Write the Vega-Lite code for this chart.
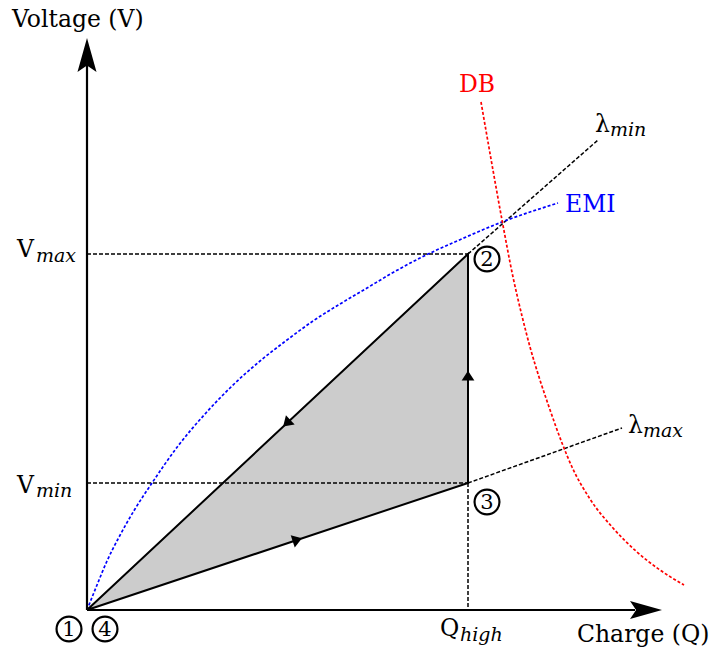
{
  "$schema": "https://vega.github.io/schema/vega-lite/v6.json",
  "width": 713,
  "height": 655,
  "autosize": {"type": "none"},
  "padding": 0,
  "background": "white",
  "config": {"view": {"stroke": null}, "font": "DejaVu Serif", "text": {"font": "DejaVu Serif"}},
  "datasets": {
    "region": [
      {"q": 0, "v": 0, "v2": 0},
      {"q": 381, "v": 356, "v2": 127}
    ],
    "cycle": [
      {"step": 1, "q": 0, "v": 0},
      {"step": 2, "q": 381, "v": 127},
      {"step": 3, "q": 381, "v": 356},
      {"step": 4, "q": 0, "v": 0}
    ],
    "guides": [
      {"q": 0, "v": 356, "q2": 381, "v2": 356},
      {"q": 0, "v": 127, "q2": 381, "v2": 127},
      {"q": 381, "v": 127, "q2": 381, "v2": 0},
      {"q": 381, "v": 356, "q2": 511, "v2": 470},
      {"q": 381, "v": 127, "q2": 535, "v2": 182}
    ],
    "axes": [
      {"q": 0, "v": 0, "q2": 548, "v2": 0},
      {"q": 0, "v": 0, "q2": 0, "v2": 545}
    ],
    "curves": [
      {"curve": "EMI", "q": 0, "v": 0},
      {"curve": "EMI", "q": 10, "v": 25},
      {"curve": "EMI", "q": 20, "v": 49},
      {"curve": "EMI", "q": 31, "v": 71},
      {"curve": "EMI", "q": 48, "v": 101},
      {"curve": "EMI", "q": 65, "v": 127},
      {"curve": "EMI", "q": 91, "v": 164},
      {"curve": "EMI", "q": 118, "v": 196},
      {"curve": "EMI", "q": 145, "v": 224},
      {"curve": "EMI", "q": 173, "v": 249},
      {"curve": "EMI", "q": 200, "v": 270},
      {"curve": "EMI", "q": 226, "v": 289},
      {"curve": "EMI", "q": 253, "v": 306},
      {"curve": "EMI", "q": 280, "v": 322},
      {"curve": "EMI", "q": 307, "v": 338},
      {"curve": "EMI", "q": 333, "v": 352},
      {"curve": "EMI", "q": 370, "v": 369},
      {"curve": "EMI", "q": 415, "v": 388},
      {"curve": "EMI", "q": 471, "v": 407},
      {"curve": "DB", "q": 394, "v": 508},
      {"curve": "DB", "q": 404, "v": 451},
      {"curve": "DB", "q": 415, "v": 390},
      {"curve": "DB", "q": 426, "v": 333},
      {"curve": "DB", "q": 435, "v": 294},
      {"curve": "DB", "q": 443, "v": 263},
      {"curve": "DB", "q": 452, "v": 233},
      {"curve": "DB", "q": 461, "v": 206},
      {"curve": "DB", "q": 475, "v": 167},
      {"curve": "DB", "q": 485, "v": 143},
      {"curve": "DB", "q": 503, "v": 111},
      {"curve": "DB", "q": 526, "v": 82},
      {"curve": "DB", "q": 550, "v": 58},
      {"curve": "DB", "q": 573, "v": 40},
      {"curve": "DB", "q": 597, "v": 25}
    ],
    "heads": [
      {"q": 0, "v": 555, "dir": "up"},
      {"q": 559, "v": 0, "dir": "right"}
    ],
    "flow": [
      {"q": 210, "v": 70, "leg": "1-3"},
      {"q": 381, "v": 234, "leg": "3-2"},
      {"q": 200, "v": 187, "leg": "2-1"}
    ],
    "states": [
      {"q": -18, "v": -19, "state": "1"},
      {"q": 18, "v": -19, "state": "4"},
      {"q": 400, "v": 351, "state": "2"},
      {"q": 400, "v": 108, "state": "3"}
    ],
    "labels": [
      {"q": -75, "v": 583, "label": "Voltage (V)", "role": "main"},
      {"q": -70, "v": 353, "label": "V", "role": "main"},
      {"q": -70, "v": 117, "label": "V", "role": "main"},
      {"q": 353, "v": -26, "label": "Q", "role": "main"},
      {"q": 490, "v": -32, "label": "Charge (Q)", "role": "main"},
      {"q": 508, "v": 478, "label": "λ", "role": "main"},
      {"q": 541, "v": 177, "label": "λ", "role": "main"},
      {"q": -51, "v": 348, "label": "max", "role": "sub"},
      {"q": -51, "v": 113, "label": "min", "role": "sub"},
      {"q": 373, "v": -31, "label": "high", "role": "sub"},
      {"q": 523, "v": 474, "label": "min", "role": "sub"},
      {"q": 556, "v": 173, "label": "max", "role": "sub"}
    ],
    "curveLabels": [
      {"q": 372, "v": 518, "label": "DB", "curve": "DB"},
      {"q": 478, "v": 398, "label": "EMI", "curve": "EMI"}
    ]
  },
  "encoding": {
    "x": {"field": "q", "type": "quantitative", "scale": {"domain": [-87, 626], "nice": false, "zero": false}, "axis": null},
    "y": {"field": "v", "type": "quantitative", "scale": {"domain": [-45, 610], "nice": false, "zero": false}, "axis": null}
  },
  "layer": [
    {
      "data": {"name": "region"},
      "mark": {"type": "area", "color": "#cccccc", "opacity": 1},
      "encoding": {"y2": {"field": "v2"}}
    },
    {
      "data": {"name": "guides"},
      "mark": {"type": "rule", "color": "black", "strokeWidth": 1.5, "strokeDash": [4, 2]},
      "encoding": {"x2": {"field": "q2"}, "y2": {"field": "v2"}}
    },
    {
      "data": {"name": "curves"},
      "mark": {"type": "line", "strokeWidth": 1.7, "strokeDash": [3, 2], "interpolate": "monotone"},
      "encoding": {
        "color": {"field": "curve", "type": "nominal", "scale": {"domain": ["EMI", "DB"], "range": ["#0000ff", "#ff0000"]}, "legend": null},
        "order": {"field": "q", "type": "quantitative"}
      }
    },
    {
      "data": {"name": "cycle"},
      "mark": {"type": "line", "color": "black", "strokeWidth": 2, "strokeJoin": "miter"},
      "encoding": {"order": {"field": "step", "type": "quantitative"}}
    },
    {
      "data": {"name": "axes"},
      "mark": {"type": "rule", "color": "black", "strokeWidth": 2.2},
      "encoding": {"x2": {"field": "q2"}, "y2": {"field": "v2"}}
    },
    {
      "data": {"name": "heads"},
      "transform": [{"filter": "datum.dir === 'up'"}],
      "mark": {"type": "point", "shape": "M0,-1 L0.56,1 L0,0.62 L-0.56,1 Z", "size": 1156, "filled": true, "color": "black", "opacity": 1, "angle": 0}
    },
    {
      "data": {"name": "heads"},
      "transform": [{"filter": "datum.dir === 'right'"}],
      "mark": {"type": "point", "shape": "M0,-1 L0.56,1 L0,0.62 L-0.56,1 Z", "size": 1024, "filled": true, "color": "black", "opacity": 1, "angle": 90}
    },
    {
      "data": {"name": "flow"},
      "transform": [{"filter": "datum.leg === '1-3'"}],
      "mark": {"type": "point", "shape": "M0,-0.7 L0.85,0.6 L-0.85,0.6 Z", "size": 225, "filled": true, "color": "black", "opacity": 1, "angle": 71.6}
    },
    {
      "data": {"name": "flow"},
      "transform": [{"filter": "datum.leg === '3-2'"}],
      "mark": {"type": "point", "shape": "M0,-0.7 L0.85,0.6 L-0.85,0.6 Z", "size": 225, "filled": true, "color": "black", "opacity": 1, "angle": 0}
    },
    {
      "data": {"name": "flow"},
      "transform": [{"filter": "datum.leg === '2-1'"}],
      "mark": {"type": "point", "shape": "M0,-0.7 L0.85,0.6 L-0.85,0.6 Z", "size": 225, "filled": true, "color": "black", "opacity": 1, "angle": 226.9}
    },
    {
      "data": {"name": "states"},
      "mark": {"type": "point", "shape": "circle", "size": 620, "filled": false, "stroke": "black", "strokeWidth": 2.2, "opacity": 1}
    },
    {
      "data": {"name": "states"},
      "mark": {"type": "text", "font": "DejaVu Serif", "fontSize": 21, "baseline": "middle", "align": "center", "dy": 1, "color": "black"},
      "encoding": {"text": {"field": "state"}}
    },
    {
      "data": {"name": "labels"},
      "transform": [{"filter": "datum.role === 'main'"}],
      "mark": {"type": "text", "font": "DejaVu Serif", "fontSize": 23.5, "align": "left", "baseline": "alphabetic", "color": "black"},
      "encoding": {"text": {"field": "label"}}
    },
    {
      "data": {"name": "labels"},
      "transform": [{"filter": "datum.role === 'sub'"}],
      "mark": {"type": "text", "font": "DejaVu Serif", "fontSize": 19, "fontStyle": "italic", "align": "left", "baseline": "alphabetic", "color": "black"},
      "encoding": {"text": {"field": "label"}}
    },
    {
      "data": {"name": "curveLabels"},
      "mark": {"type": "text", "font": "DejaVu Serif", "fontSize": 23.5, "align": "left", "baseline": "alphabetic"},
      "encoding": {
        "text": {"field": "label"},
        "color": {"field": "curve", "type": "nominal", "scale": {"domain": ["EMI", "DB"], "range": ["#0000ff", "#ff0000"]}, "legend": null}
      }
    }
  ]
}
